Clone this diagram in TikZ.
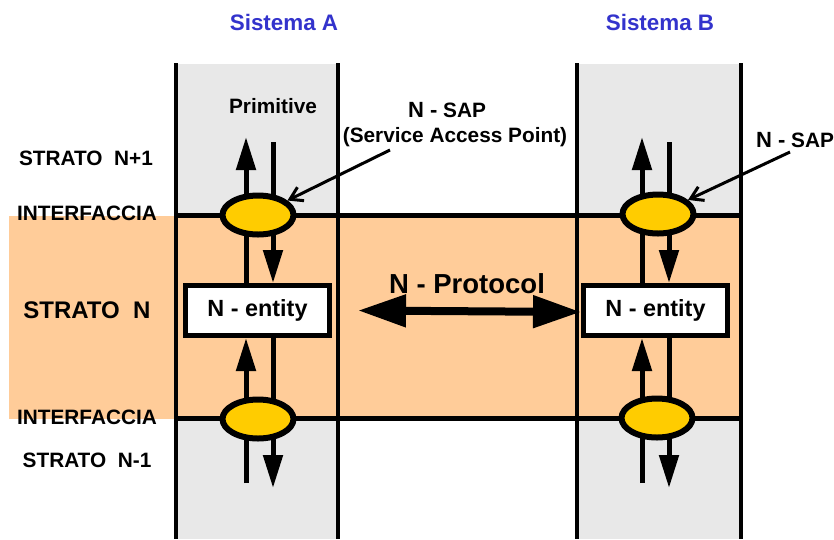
\documentclass[tikz,border=0pt]{standalone}
\usepackage{fontspec}
\setmainfont{Liberation Sans}
\usetikzlibrary{arrows.meta,shapes.geometric}
\definecolor{colgray}{RGB}{232,232,232}
\definecolor{strato}{RGB}{255,204,153}
\definecolor{sapyel}{RGB}{255,204,0}
\definecolor{sysblue}{RGB}{51,51,204}
\begin{document}
\begin{tikzpicture}[x=1pt, y=-1pt,
    every node/.style={font=\bfseries\fontsize{20.8}{22}\selectfont, inner sep=0pt},
    sys/.style={text=sysblue, font=\bfseries\fontsize{22.4}{24}\selectfont},
    entity/.style={draw, line width=5pt, fill=white, minimum width=144pt, minimum height=50pt, font=\bfseries\fontsize{23.4}{25}\selectfont},
    sap/.style={ellipse, draw, line width=6pt, fill=sapyel, minimum width=71pt, minimum height=39pt},
    prim/.style={line width=5pt, -{Triangle[length=33pt,width=19pt]}},
    proto/.style={line width=8pt, {Triangle[length=48pt,width=31pt]}-{Triangle[length=48pt,width=31pt]}},
    pointer/.style={line width=3pt, -{Straight Barb[length=12pt,width=15pt]}},
    col/.style={line width=4pt},
    iface/.style={line width=5pt}]
    \useasboundingbox (0,0) rectangle (834,539);

    \fill[colgray] (176,64) rectangle (338,539);
    \fill[colgray] (577,64) rectangle (741,539);
    \fill[strato] (9,216) rectangle (741,419);
    \foreach \x in {176,338,577,741}
      \draw[col] (\x,63) -- (\x,539);
    \draw[iface] (176,215) -- (741,215);
    \draw[iface] (176,418) -- (741,418);

    \node[entity] (entA) at (257.5,310.5) {N - entity};
    \node[entity] (entB) at (655.5,310.5) {N - entity};

    \coordinate (upA) at (246,137);
    \coordinate (dnA) at (273,142);
    \coordinate (loA) at (246,483);
    \coordinate (lodA) at (273,488);
    \coordinate (upB) at (642,137);
    \coordinate (dnB) at (669,142);
    \coordinate (loB) at (642,483);
    \coordinate (lodB) at (669,488);

    \draw[prim] (entA.north -| upA) -- (upA);
    \draw[prim] (dnA) -- (entA.north -| dnA);
    \draw[prim] (loA) -- (entA.south -| loA);
    \draw[prim] (entA.south -| lodA) -- (lodA);
    \draw[prim] (entB.north -| upB) -- (upB);
    \draw[prim] (dnB) -- (entB.north -| dnB);
    \draw[prim] (loB) -- (entB.south -| loB);
    \draw[prim] (entB.south -| lodB) -- (lodB);

    \node[sap] (sapA1) at (258,215) {};
    \node[sap] (sapA0) at (258,419) {};
    \node[sap] (sapB1) at (658,214) {};
    \node[sap] (sapB0) at (657,418) {};

    \node[sys] (sysA) at (284,22) {Sistema A};
    \node[sys] (sysB) at (660,22) {Sistema B};
    \node (primA) at (273,106) {Primitive};
    \node (lblA) at (447,110) {{\fontsize{22}{24}\selectfont N -} SAP};
    \node (descA) at (455,137) {(Service Access Point)};
    \node (lblB) at (795,140) {{\fontsize{22}{24}\selectfont N -} SAP};

    \coordinate (ptrA) at (390,150);
    \coordinate (ptrB) at (790,152);
    \draw[pointer] (ptrA) -- (sapA1);
    \draw[pointer] (ptrB) -- (sapB1);

    \node (sN1) at (86,158) {STRATO\ \ N+1};
    \node (if1) at (87,213) {INTERFACCIA};
    \node[font=\bfseries\fontsize{24}{26}\selectfont] (sN) at (87,310) {STRATO\ \ N};
    \node (if0) at (87,417) {INTERFACCIA};
    \node (sN0) at (87,460) {STRATO\ \ N-1};

    \node[font=\bfseries\fontsize{27.5}{29}\selectfont] (protoLbl) at (467,284) {N - Protocol};
    \draw[proto] ([xshift=26pt]entA.east) -- ([yshift=-1.5pt]entB.west);
\end{tikzpicture}
\end{document}
